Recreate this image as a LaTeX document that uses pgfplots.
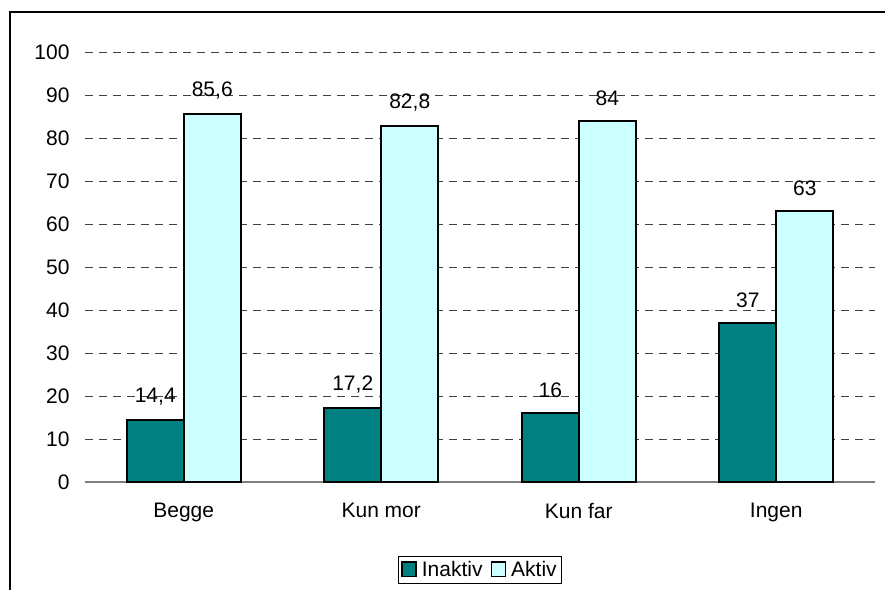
\documentclass[border=0pt]{standalone}
\usepackage{pgfplots}
\pgfplotsset{compat=1.18}
\usepackage{fontspec}
\setmainfont{Liberation Sans}
\definecolor{inak}{RGB}{0,128,128}
\definecolor{akt}{RGB}{204,255,255}
\begin{document}
\begin{tikzpicture}[x=1pt,y=1pt]
\useasboundingbox (0,0) rectangle (885,589);
\draw[line width=1.3pt] (10,-30) rectangle (920,577);
\begin{axis}[
  at={(85pt,107pt)}, anchor=south west,
  scale only axis, width=790pt, height=430pt,
  ymin=0, ymax=100, ytick={0,10,...,100},
  xmin=-0.5, xmax=3.5, xtick={0,1,2,3},
  xticklabels={Begge,Kun mor,Kun far,Ingen},
  ybar=0pt, bar width=57pt,
  axis lines*=left,
  y axis line style={draw=none},
  x axis line style={draw=gray, line width=1.5pt},
  major tick length=0pt,
  ymajorgrids,
  grid style={dash pattern=on 8pt off 6pt, black!75, line width=0.8pt},
  tick label style={font=\fontsize{21}{24}\selectfont},
  /pgf/number format/assume math mode=true,
  yticklabel style={xshift=-12pt},
  xticklabel style={yshift=-18pt},
  nodes near coords={\pgfmathprintnumber[use comma]{\pgfplotspointmeta}},
  nodes near coords style={font=\fontsize{21}{24}\selectfont, anchor=south, yshift=11pt},
  legend style={at={(480pt-85pt,19pt-107pt)}, anchor=center, legend columns=2,
    draw=black, line width=1pt, font=\fontsize{21}{24}\selectfont,
    inner xsep=3pt, inner ysep=3pt,
    /tikz/every odd column/.append style={column sep=3pt},
    /tikz/every even column/.append style={column sep=6pt}},
  legend cell align=left,
  legend image code/.code={\draw[#1, draw=black, line width=1.6pt] (0pt,-6.5pt) rectangle (14pt,8pt);},
]
\addplot[fill=inak, draw=black, line width=1.6pt] coordinates {(0,14.4) (1,17.2) (2,16) (3,37)};
\addplot[fill=akt, draw=black, line width=1.6pt] coordinates {(0,85.6) (1,82.8) (2,84) (3,63)};
\legend{Inaktiv,Aktiv}
\end{axis}
\end{tikzpicture}
\end{document}
